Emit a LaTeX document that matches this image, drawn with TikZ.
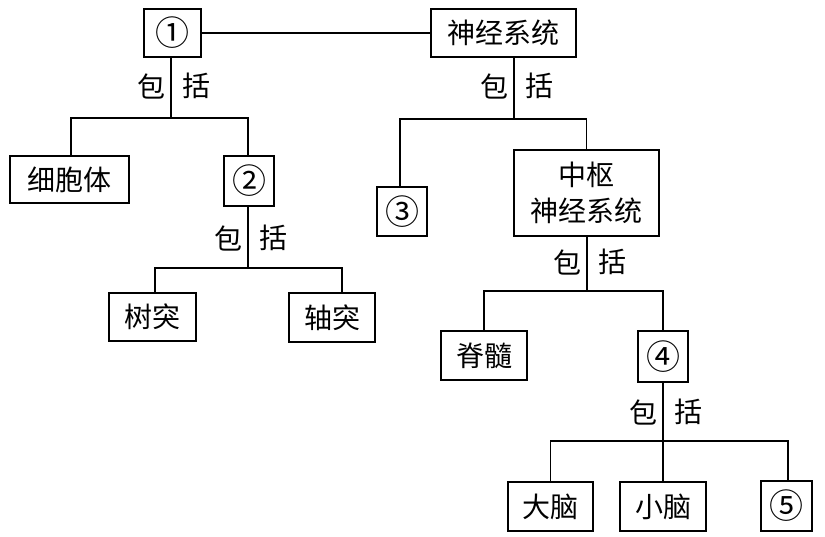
\documentclass[tikz,border=0pt]{standalone}
\usepackage{fontspec}
\newfontfamily\cjk{Noto Sans CJK SC}
\newcommand{\circnum}[1]{{\fontsize{34}{34}\selectfont #1}}
\begin{document}
\begin{tikzpicture}[x=1pt,y=-1pt,
  box/.style={draw,line width=2.4pt,inner sep=0pt,align=center,font=\cjk\fontsize{28}{36}\selectfont},
  conn/.style={line width=1.6pt},
  lab/.style={inner sep=0pt,font=\cjk\fontsize{28}{32}\selectfont}]
\useasboundingbox (0,0) rectangle (825,537);
% boxes
\node[box,minimum width=57pt,minimum height=48pt] (n1) at (172.5,33) {\circnum{①}};
\node[box,minimum width=145pt,minimum height=48pt] (ns) at (503.5,33) {神经系统};
\node[box,minimum width=119pt,minimum height=47pt] (cell) at (69.5,179.5) {细胞体};
\node[box,minimum width=50pt,minimum height=50pt] (n2) at (249,181) {\circnum{②}};
\node[box,minimum width=50pt,minimum height=49pt] (n3) at (402,211.5) {\circnum{③}};
\node[box,minimum width=145pt,minimum height=86pt] (cns) at (586.5,193) {中枢\\神经系统};
\node[box,minimum width=87pt,minimum height=48pt] (sd) at (152.5,317) {树突};
\node[box,minimum width=86pt,minimum height=49pt] (zt) at (332,317.5) {轴突};
\node[box,minimum width=86pt,minimum height=49pt] (js) at (484,355.5) {脊髓};
\node[box,minimum width=50pt,minimum height=51pt] (n4) at (663,356.5) {\circnum{④}};
\node[box,minimum width=85pt,minimum height=49pt] (dn) at (550.5,506.5) {大脑};
\node[box,minimum width=86pt,minimum height=49pt] (xn) at (663,506.5) {小脑};
\node[box,minimum width=51pt,minimum height=50pt] (n5) at (786.5,506) {\circnum{⑤}};
% connectors
\draw[conn] (n1.east) -- (ns.west);
\coordinate (b1) at (171,118);
\draw[conn] (n1.south -| b1) -- (b1);
\draw[conn] (cell.north -| 71,0) |- (b1) -| (n2.north -| 248,0);
\coordinate (b2) at (514,119);
\draw[conn] (ns.south -| b2) -- (b2);
\draw[conn] (n3.north -| 400,0) |- (b2) -| (cns.north -| 586.5,0);
\coordinate (b3) at (248,268);
\draw[conn] (n2.south -| b3) -- (b3);
\draw[conn] (sd.north -| 155,0) |- (b3) -| (zt.north -| 342,0);
\coordinate (b4) at (587,291);
\draw[conn] (cns.south -| b4) -- (b4);
\draw[conn] (js.north) |- (b4) -| (n4.north);
\coordinate (b5) at (663,441);
\draw[conn] (n4.south) -- (b5) -- (xn.north);
\draw[conn] (dn.north) |- (b5) -| (n5.north -| 788,0);
% labels
\node[lab] (l1a) at (151,86) {包};
\node[lab] (l1b) at (196,86) {括};
\node[lab] (l2a) at (494,86) {包};
\node[lab] (l2b) at (539,86) {括};
\node[lab] (l3a) at (228,238) {包};
\node[lab] (l3b) at (273,238) {括};
\node[lab] (l4a) at (567,262) {包};
\node[lab] (l4b) at (612,262) {括};
\node[lab] (l5a) at (643,412) {包};
\node[lab] (l5b) at (688,412) {括};
\end{tikzpicture}
\end{document}
